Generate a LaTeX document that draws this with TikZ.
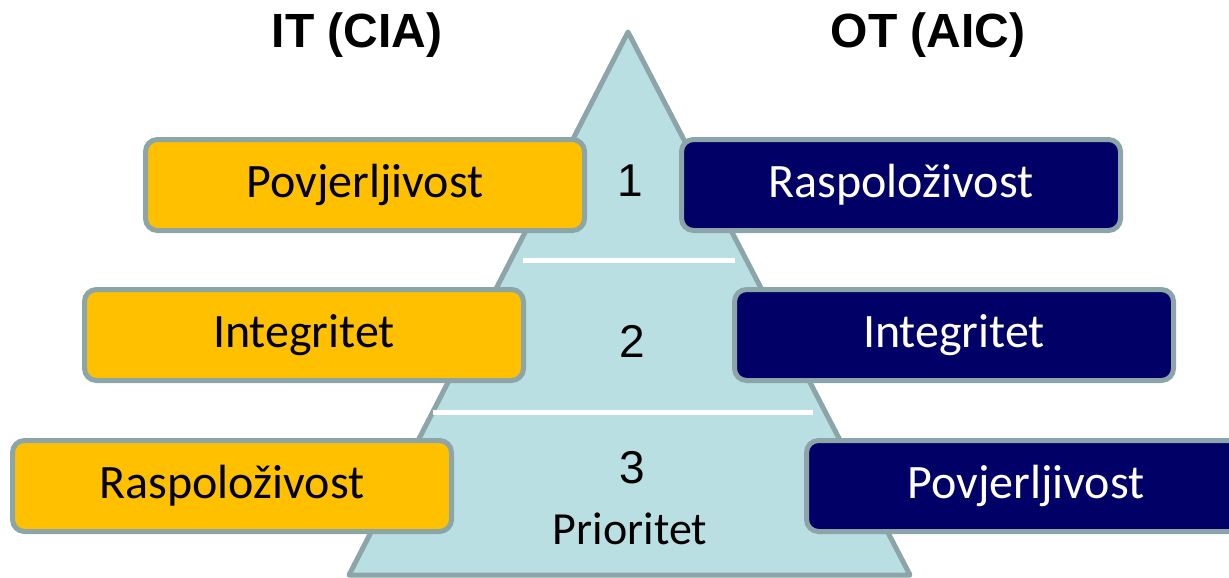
\documentclass[tikz,border=0pt]{standalone}
\usepackage{fontspec}
\setmainfont{Carlito}
\newfontfamily\arialfont{Liberation Sans}
\usepackage{tikz}
\definecolor{pyrfill}{HTML}{B9DFE3}
\definecolor{edgegray}{HTML}{8BA5A8}
\definecolor{itgold}{HTML}{FFC000}
\definecolor{otnavy}{HTML}{000066}

\begin{document}
\begin{tikzpicture}[x=1pt,y=-1pt,
	itbox/.style={draw=edgegray, line width=5pt, fill=itgold, rounded corners=12pt, minimum width=439pt, minimum height=91pt, inner sep=0pt, text=black, font=\fontsize{48}{50}\selectfont},
	otbox/.style={itbox, fill=otnavy, text=white},
	rank/.style={anchor=base, font=\arialfont\fontsize{46}{48}\selectfont},
	heading/.style={anchor=base, font=\arialfont\bfseries\fontsize{48}{50}\selectfont}]
	\useasboundingbox (0,0) rectangle (1229,578);
	\clip (0,0) rectangle (1229,578);
	% pyramid
	\draw[edgegray, line width=5pt, fill=pyrfill, line join=round] (628,32) -- (910,575) -- (349,575) -- cycle;
	\draw[white, line width=5pt] (523,260) -- (735,260);
	\draw[white, line width=5pt] (433,412) -- (813,412);
	% headings
	\node[heading] (it) at (357,48) {IT (CIA)};
	\node[heading] (ot) at (928,48) {OT (AIC)};
	% ranks
	\node[rank] (r1) at (630,196) {1};
	\node[rank] (r2) at (632,357) {2};
	\node[rank] (r3) at (632,483) {3};
	\node[anchor=base, font=\fontsize{46}{48}\selectfont] (prio) at (630,544) {Prioritet};
	% IT side
	\node[itbox] (itc) at (365,185) {Povjerljivost};
	\node[itbox] (iti) at (304,335) {Integritet};
	\node[itbox] (ita) at (232,486) {Raspoloživost};
	% OT side
	\node[otbox] (ota) at (901,185) {Raspoloživost};
	\node[otbox] (oti) at (954,335) {Integritet};
	\node[otbox] (otc) at (1026,486) {Povjerljivost};
\end{tikzpicture}
\end{document}
